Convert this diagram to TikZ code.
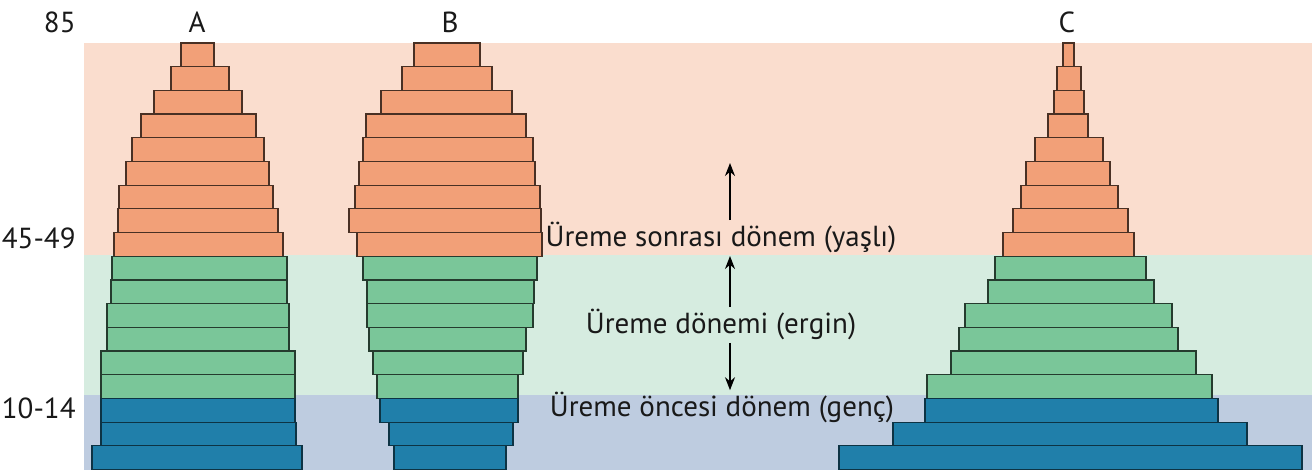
\documentclass[tikz,border=0pt]{standalone}
\usepackage{fontspec}
\setmainfont{PT Sans}
\usepackage{xcolor}
\usetikzlibrary{arrows.meta}

\definecolor{oldband}{HTML}{FADDCE}
\definecolor{adultband}{HTML}{D6ECE0}
\definecolor{youngband}{HTML}{BECCE0}
\definecolor{oldfill}{HTML}{F2A078}
\definecolor{adultfill}{HTML}{7AC699}
\definecolor{youngfill}{HTML}{207FAA}

\tikzset{
	oldbar/.style={fill=oldfill, draw=black!70!oldfill, line width=0.6pt},
	adultbar/.style={fill=adultfill, draw=black!70!adultfill, line width=0.6pt},
	youngbar/.style={fill=youngfill, draw=black!60!youngfill, line width=0.6pt},
	agelabel/.style={anchor=east, inner sep=0.5pt, font=\fontsize{14.5}{17}\selectfont, text=black!90},
	pyrlabel/.style={inner sep=1pt, font=\fontsize{14.5}{17}\selectfont, text=black!90},
	periodlabel/.style={inner sep=1pt, font=\fontsize{14.5}{17}\selectfont, text=black!90},
	periodarrow/.style={-{Stealth[length=6.5pt, width=5pt]}, line width=0.8pt}
}

\newcommand{\pyramid}[1]{%
	\foreach \l/\r [count=\i from 0] in {#1} {
		\ifnum\i<9 \def\barstyle{oldbar}\else\ifnum\i<15 \def\barstyle{adultbar}\else\def\barstyle{youngbar}\fi\fi
		\draw[\barstyle] (\l,{43+\i*23.7}) rectangle (\r,{43+(\i+1)*23.7});
	}%
}

\begin{document}
\begin{tikzpicture}[x=0.5pt, y=-0.5pt]
	\useasboundingbox (0,0) rectangle (1312,474);

	% age bands
	\fill[oldband] (84,43) rectangle (1312,255);
	\fill[adultband] (84,255) rectangle (1312,395);
	\fill[youngband] (84,395) rectangle (1312,470);

	% ages
	\node[agelabel] (age85) at (77,22) {85};
	\node[agelabel] (age45) at (77,238) {45-49};
	\node[agelabel] (age10) at (77,408) {10-14};

	% pyramids
	\pyramid{181/214, 171/229, 154/242, 141/256, 132/264, 126/269, 119/273, 118/278, 114/283,
		112/287, 111/287, 107/289, 107/289, 101/295, 101/295, 101/295, 101/296, 92/302}
	\pyramid{414/480, 402/492, 381/512, 366/526, 363/533, 359/535, 355/540, 349/541, 357/542,
		363/537, 367/534, 367/533, 369/526, 373/523, 377/518, 380/518, 389/513, 394/506}
	\pyramid{1063/1074, 1057/1081, 1054/1084, 1048/1088, 1035/1103, 1026/1110, 1021/1118, 1013/1128, 1003/1134,
		995/1146, 988/1154, 965/1172, 959/1178, 951/1196, 927/1212, 925/1218, 893/1247, 839/1302}

	\node[pyrlabel] (A) at (197,22) {A};
	\node[pyrlabel] (B) at (450,22) {B};
	\node[pyrlabel] (C) at (1067,22) {C};

	% periods
	\node[periodlabel] (old) at (721,238) {Üreme sonrası dönem (yaşlı)};
	\node[periodlabel] (adult) at (721,325) {Üreme dönemi (ergin)};
	\node[periodlabel] (young) at (722,408) {Üreme öncesi dönem (genç)};

	\coordinate (oldtip) at (730,163);
	\coordinate (adulttip) at (730,256);
	\draw[periodarrow] (oldtip |- old.north) -- (oldtip);
	\draw[periodarrow] (adulttip |- adult.north) -- (adulttip);
	\draw[periodarrow] (adulttip |- adult.south) -- (adulttip |- young.north);
\end{tikzpicture}
\end{document}
